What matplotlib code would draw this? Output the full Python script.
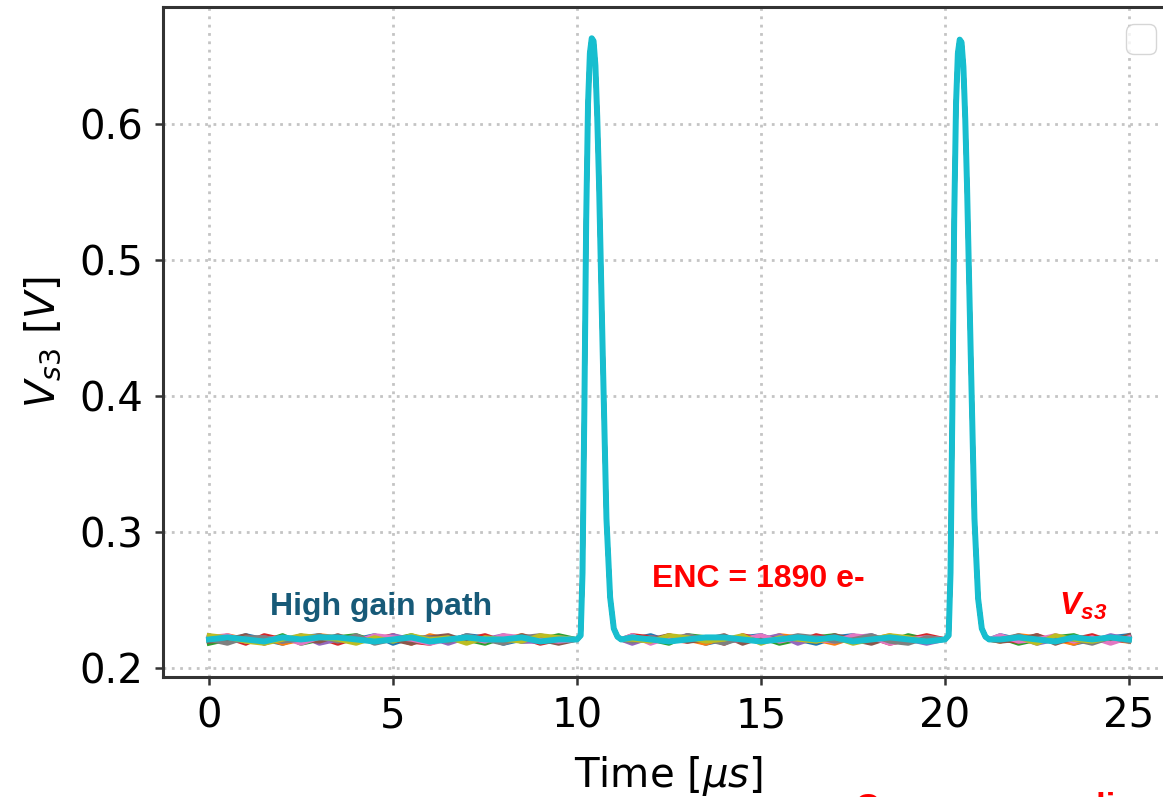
import numpy as np
import matplotlib
matplotlib.use("Agg")
import matplotlib.pyplot as plt

plt.rcParams["mathtext.fontset"] = "custom"
plt.rcParams["mathtext.rm"] = "DejaVu Sans"
plt.rcParams["mathtext.it"] = "DejaVu Sans:italic"
plt.rcParams["mathtext.bf"] = "Liberation Sans:bold"
plt.rcParams["mathtext.bfit"] = "Liberation Sans:italic:bold"

# ---- time grid (microseconds) ----
t_seg_a = [0.0, 0.5, 1.0, 1.5, 2.0, 2.5, 3.0, 3.5, 4.0, 4.5,
           5.0, 5.5, 6.0, 6.5, 7.0, 7.5, 8.0, 8.5, 9.0, 9.5]
t_pulse_1 = [10.0, 10.1, 10.15, 10.2, 10.25, 10.3, 10.35, 10.4, 10.45,
             10.5, 10.55, 10.6, 10.7, 10.8, 10.9, 11.0, 11.1, 11.2]
t_seg_b = [11.5, 12.0, 12.5, 13.0, 13.5, 14.0, 14.5, 15.0, 15.5,
           16.0, 16.5, 17.0, 17.5, 18.0, 18.5, 19.0, 19.5]
t_pulse_2 = [20.0, 20.1, 20.15, 20.2, 20.25, 20.3, 20.35, 20.4, 20.45,
             20.5, 20.55, 20.6, 20.7, 20.8, 20.9, 21.0, 21.1, 21.2]
t_seg_c = [21.5, 22.0, 22.5, 23.0, 23.5, 24.0, 24.5, 25.0]

# ---- shaped pulse (V) ----
pulse_1 = [0.221, 0.224, 0.27, 0.39, 0.53, 0.615, 0.652, 0.663, 0.661,
           0.643, 0.605, 0.555, 0.43, 0.31, 0.252, 0.229, 0.223, 0.221]
pulse_2 = [0.221, 0.224, 0.27, 0.39, 0.53, 0.615, 0.652, 0.662, 0.660,
           0.642, 0.604, 0.553, 0.43, 0.31, 0.251, 0.229, 0.223, 0.221]

baseline_v = 0.221
lsb_v = 0.0015  # ADC step of the baseline samples

# ---- baseline noise per run (ADC counts), samples on t_seg_a + t_seg_b + t_seg_c ----
noise_counts = [
    [1, -1, 2, 0, -2, 1, 2, -1, 0, 2, -2, 1, 0, -1, 2, 1, -2, 0, 1, -1,
     0, 2, -1, 1, -2, 0, 1, 2, -1, 0, -2, 1, 2, -1, 0, 1, -1,
     2, 0, -1, 1, -2, 0, 1, 2],
    [-1, 2, 0, 1, -2, 0, 2, 1, -1, 0, 1, -2, 2, 0, -1, 1, 0, 2, -1, 0,
     1, -1, 2, 0, -2, 1, 0, -1, 2, 1, 0, -2, 1, 0, 2, -1, 1,
     -1, 2, 1, 0, -2, 1, 0, -1],
    [-2, 0, 1, -1, 2, -2, 0, 1, 2, -1, 0, 2, -1, 1, 0, -2, 1, -1, 0, 2,
     -1, 0, -2, 2, 1, -1, 0, 1, -2, 0, 1, 2, -1, 0, -1, 2, 0,
     1, -2, 0, 1, 2, -1, 0, 1],
    [0, 1, -2, 2, 0, -1, 1, -2, 1, 0, 2, -1, -2, 1, 0, 2, -1, 1, -2, 0,
     2, 1, 0, -1, 1, -2, 2, 0, 1, -1, 2, 0, -1, 1, -2, 0, 2,
     0, -1, 2, -1, 0, 2, -1, 0],
    [2, -1, 0, 1, -1, 2, -2, 0, 1, -1, 2, 0, 1, -2, 1, 0, 2, -1, -1, 1,
     -2, 1, 0, 2, -1, 1, -1, 0, 2, -2, 1, 0, 1, 2, -1, 0, -2,
     1, 1, -2, 0, 1, -1, 2, 0],
    [-1, 0, 2, -2, 1, 0, -1, 2, -1, 1, 0, -2, 1, 2, -1, 0, -1, 2, 0, -2,
     1, 0, 2, -1, 0, 2, -2, 1, 0, 1, -1, 2, 0, -2, 1, 1, 0,
     -1, 0, 2, -2, 1, 0, -1, 2],
    [1, 2, -1, 0, 1, -2, 1, 0, -1, 2, 1, 0, -2, 0, 1, -1, 2, 1, 0, -1,
     2, -2, 1, 0, 1, -1, 0, 2, -1, 1, 0, -1, 2, 1, -2, 0, 1,
     2, -1, 0, 2, -1, 1, -2, 1],
    [0, -2, 1, 1, -1, 0, 2, -1, 2, -2, 0, 1, 1, -1, 2, 0, -2, 1, 2, 0,
     -1, 1, -1, 2, 0, -2, 1, -1, 0, 2, 1, -1, 0, 2, -1, -2, 1,
     0, 2, -1, 1, 0, -2, 1, -1],
    [2, 1, -1, -2, 0, 2, 1, 0, -2, 1, -1, 2, 0, 1, -2, 1, 0, -1, 2, 1,
     0, -1, 2, 1, -1, 0, 2, -2, 1, 0, -1, 1, -2, 0, 2, 1, -1,
     0, 1, -2, 2, 0, -1, 1, 0],
    [0, 1, 0, -1, 1, 0, 1, 1, 0, -1, 0, 1, -1, 0, 1, 0, 0, 1, -1, 0,
     1, 0, -1, 0, 1, 1, 0, -1, 0, 1, 0, 1, -1, 0, 1, 0, -1,
     0, 1, 0, -1, 1, 0, 1, 0],
]

x_ticks = [0, 5, 10, 15, 20, 25]
y_ticks = [0.2, 0.3, 0.4, 0.5, 0.6]

n_a, n_b = len(t_seg_a), len(t_seg_b)
t_all = np.array(t_seg_a + t_pulse_1 + t_seg_b + t_pulse_2 + t_seg_c)

W, H = 1163, 797
fig = plt.figure(figsize=(W / 100, H / 100), dpi=100)
ax = fig.add_axes([163 / W, 120 / H, 1012 / W, 670 / H])

colors = plt.rcParams["axes.prop_cycle"].by_key()["color"]
for i, nz in enumerate(noise_counts):
    base = baseline_v + np.array(nz) * lsb_v
    v = np.concatenate([base[:n_a], pulse_1, base[n_a:n_a + n_b],
                        pulse_2, base[n_a + n_b:]])
    last = i == len(noise_counts) - 1
    ax.plot(t_all, v, color=colors[i % len(colors)],
            lw=4.3 if last else 3.2, zorder=3 + i)

ax.set_xlim(-1.25, 26.25)
ax.set_ylim(0.1934, 0.686)
ax.set_xticks(x_ticks)
ax.set_yticks(y_ticks)
ax.set_yticklabels([f"{y:.1f}" for y in y_ticks])
ax.grid(True, ls=(0, (1, 2)), lw=2.0, color="#c4c4c4")
ax.set_axisbelow(True)

for s in ax.spines.values():
    s.set_linewidth(2.2)
    s.set_color("#333333")
ax.tick_params(labelsize=29, length=6, width=1.8, color="#333333", pad=8)

ax.set_xlabel(r"Time [$\mu s$]", fontsize=29, labelpad=13)
ax.set_ylabel(r"$V_{s3}$ [$V$]", fontsize=29, labelpad=12)

ax.legend(handles=[], loc="upper right", bbox_to_anchor=(1156 / W, 1 - 24 / H),
          bbox_transform=fig.transFigure, borderaxespad=0, fontsize=27)

ax.text(1.66, 0.239, "High gain path", fontsize=23, fontweight="bold",
        family="Liberation Sans", color="#175a78", ha="left", va="baseline", zorder=20)
ax.text(12.04, 0.2596, "ENC = 1890 e-", fontsize=23, fontweight="bold",
        family="Liberation Sans", color="#ff0000", ha="left", va="baseline", zorder=20)
ax.text(23.1, 0.239, r"$\mathbfit{V}_{\mathbfit{s3}}$", fontsize=23,
        color="#ff0000", ha="left", va="baseline", zorder=20)

fig.text(855 / W, 5 / H, "Common sum line", fontsize=25, fontweight="bold",
         family="Liberation Sans", color="#ff0000", ha="left", va="top")

fig.savefig("out.png", dpi=100)
